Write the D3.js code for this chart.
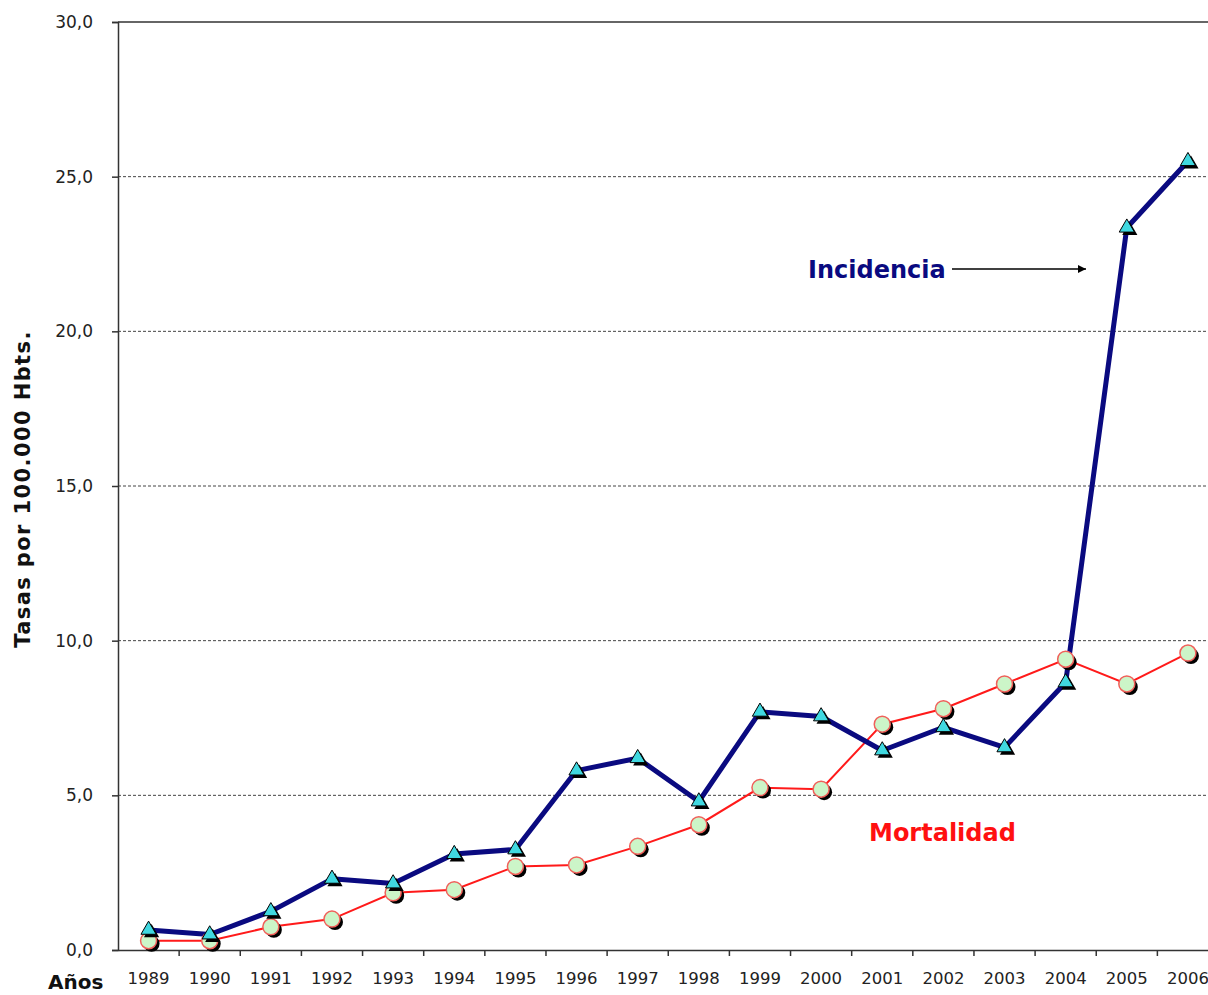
<!DOCTYPE html>
<html>
<head>
<meta charset="utf-8">
<script src="https://cdn.jsdelivr.net/npm/d3@7"></script>
<style>
  html, body { margin: 0; padding: 0; background: #fff; overflow: hidden; }
  svg { display: block; }
</style>
</head>
<body>
<svg id="chart" width="1208" height="995"></svg>
<script>
// Años de observación
const years = ["1989","1990","1991","1992","1993","1994","1995","1996","1997",
               "1998","1999","2000","2001","2002","2003","2004","2005","2006"];

// Tasas por 100.000 habitantes
const incidencia = [0.65, 0.5, 1.25, 2.3, 2.15, 3.1, 3.25, 5.8, 6.2,
                    4.8, 7.7, 7.55, 6.45, 7.2, 6.55, 8.65, 23.35, 25.5];
const mortalidad = [0.3, 0.3, 0.75, 1.0, 1.85, 1.95, 2.7, 2.75, 3.35,
                    4.05, 5.25, 5.2, 7.3, 7.8, 8.6, 9.4, 8.6, 9.6];

const yTicks = [0, 5, 10, 15, 20, 25, 30];

const svg = d3.select("#chart");
const W = 1208;
const plotLeft = 118, plotTop = 22, plotBottom = 950, step = 61.14;
const fontFamily = "'DejaVu Sans', Verdana, sans-serif";

const x = d3.scaleBand().domain(years).range([plotLeft, plotLeft + step * years.length]).padding(0);
const y = d3.scaleLinear().domain([0, 30]).range([plotBottom, plotTop]);
const cx = d => x(d) + x.bandwidth() / 2;

// Líneas de referencia discontinuas
svg.append("g")
  .selectAll("line")
  .data(yTicks.filter(t => t > 0 && t < 30))
  .join("line")
  .attr("x1", plotLeft).attr("x2", W)
  .attr("y1", d => y(d)).attr("y2", d => y(d))
  .attr("stroke", "#444").attr("stroke-width", 1)
  .attr("stroke-dasharray", "3,2");

// Borde superior del área de trazado
svg.append("line")
  .attr("x1", plotLeft).attr("x2", W)
  .attr("y1", y(30)).attr("y2", y(30))
  .attr("stroke", "#333").attr("stroke-width", 1.5);

// Eje Y
const yAxis = d3.axisLeft(y)
  .tickValues(yTicks)
  .tickSize(6)
  .tickPadding(19)
  .tickFormat(d => d3.format(".1f")(d).replace(".", ","));

const gy = svg.append("g").attr("transform", `translate(${plotLeft},0)`).call(yAxis);
gy.select(".domain").attr("stroke", "#333").attr("stroke-width", 1.5);
gy.selectAll(".tick line").attr("stroke", "#333").attr("stroke-width", 1.5);
gy.selectAll(".tick text")
  .attr("font-family", fontFamily).attr("font-size", 17).attr("fill", "#222");

// Eje X (marcas entre categorías)
const xAxis = d3.axisBottom(x).tickSize(0).tickPadding(22);
const gx = svg.append("g").attr("transform", `translate(0,${plotBottom})`).call(xAxis);
gx.select(".domain").attr("stroke", "#333").attr("stroke-width", 1.5);
gx.selectAll(".tick text")
  .attr("font-family", fontFamily).attr("font-size", 16.5).attr("fill", "#222");

svg.append("g")
  .selectAll("line")
  .data(years.slice(1))
  .join("line")
  .attr("x1", d => x(d)).attr("x2", d => x(d))
  .attr("y1", plotBottom).attr("y2", plotBottom + 6)
  .attr("stroke", "#333").attr("stroke-width", 1.5);

// Títulos de ejes
svg.append("text")
  .attr("transform", "translate(30,489) rotate(-90)")
  .attr("text-anchor", "middle")
  .attr("font-family", fontFamily).attr("font-weight", "bold")
  .attr("font-size", 21).attr("letter-spacing", 1.4).attr("fill", "#111")
  .text("Tasas por 100.000 Hbts.");

svg.append("text")
  .attr("x", 48).attr("y", 989)
  .attr("font-family", fontFamily).attr("font-weight", "bold")
  .attr("font-size", 20).attr("fill", "#111")
  .text("Años");

// Series
const lineGen = d3.line().x((d, i) => cx(years[i])).y(d => y(d));

svg.append("path").datum(mortalidad)
  .attr("d", lineGen).attr("fill", "none")
  .attr("stroke", "#ff1a1a").attr("stroke-width", 2);

svg.append("path").datum(incidencia)
  .attr("d", lineGen).attr("fill", "none")
  .attr("stroke", "#0a0a80").attr("stroke-width", 5)
  .attr("stroke-linejoin", "round");

// Marcadores de mortalidad: círculos con sombra
const mortG = svg.append("g");
mortG.selectAll("circle.shadow")
  .data(mortalidad).join("circle")
  .attr("class", "shadow")
  .attr("cx", (d, i) => cx(years[i]) + 3).attr("cy", d => y(d) + 3)
  .attr("r", 8).attr("fill", "#000");
mortG.selectAll("circle.mark")
  .data(mortalidad).join("circle")
  .attr("class", "mark")
  .attr("cx", (d, i) => cx(years[i])).attr("cy", d => y(d))
  .attr("r", 8).attr("fill", "#ccf5c8")
  .attr("stroke", "#f0605a").attr("stroke-width", 1.5);

// Marcadores de incidencia: triángulos con sombra
const tri = d3.symbol().type(d3.symbolTriangle).size(100);
const incG = svg.append("g");
incG.selectAll("path.shadow")
  .data(incidencia).join("path")
  .attr("class", "shadow")
  .attr("d", tri)
  .attr("transform", (d, i) => `translate(${cx(years[i]) + 3},${y(d) + 3})`)
  .attr("fill", "#000");
incG.selectAll("path.mark")
  .data(incidencia).join("path")
  .attr("class", "mark")
  .attr("d", tri)
  .attr("transform", (d, i) => `translate(${cx(years[i])},${y(d)})`)
  .attr("fill", "#40d8e0").attr("stroke", "#000").attr("stroke-width", 1);

// Rótulos de series
svg.append("text")
  .attr("x", 808).attr("y", 278)
  .attr("font-family", fontFamily).attr("font-weight", "bold")
  .attr("font-size", 24).attr("fill", "#0a0a80")
  .text("Incidencia");

svg.append("defs").append("marker")
  .attr("id", "arrowhead")
  .attr("viewBox", "0 0 10 10").attr("refX", 10).attr("refY", 5)
  .attr("markerWidth", 10).attr("markerHeight", 8)
  .attr("markerUnits", "userSpaceOnUse")
  .attr("orient", "auto")
  .append("path").attr("d", "M0,0 L10,5 L0,10 Z").attr("fill", "#000");

svg.append("line")
  .attr("x1", 952).attr("x2", 1086)
  .attr("y1", 269).attr("y2", 269)
  .attr("stroke", "#000").attr("stroke-width", 1.5)
  .attr("marker-end", "url(#arrowhead)");

svg.append("text")
  .attr("x", 869).attr("y", 841)
  .attr("font-family", fontFamily).attr("font-weight", "bold")
  .attr("font-size", 24).attr("fill", "#ff1010")
  .text("Mortalidad");
</script>
</body>
</html>
